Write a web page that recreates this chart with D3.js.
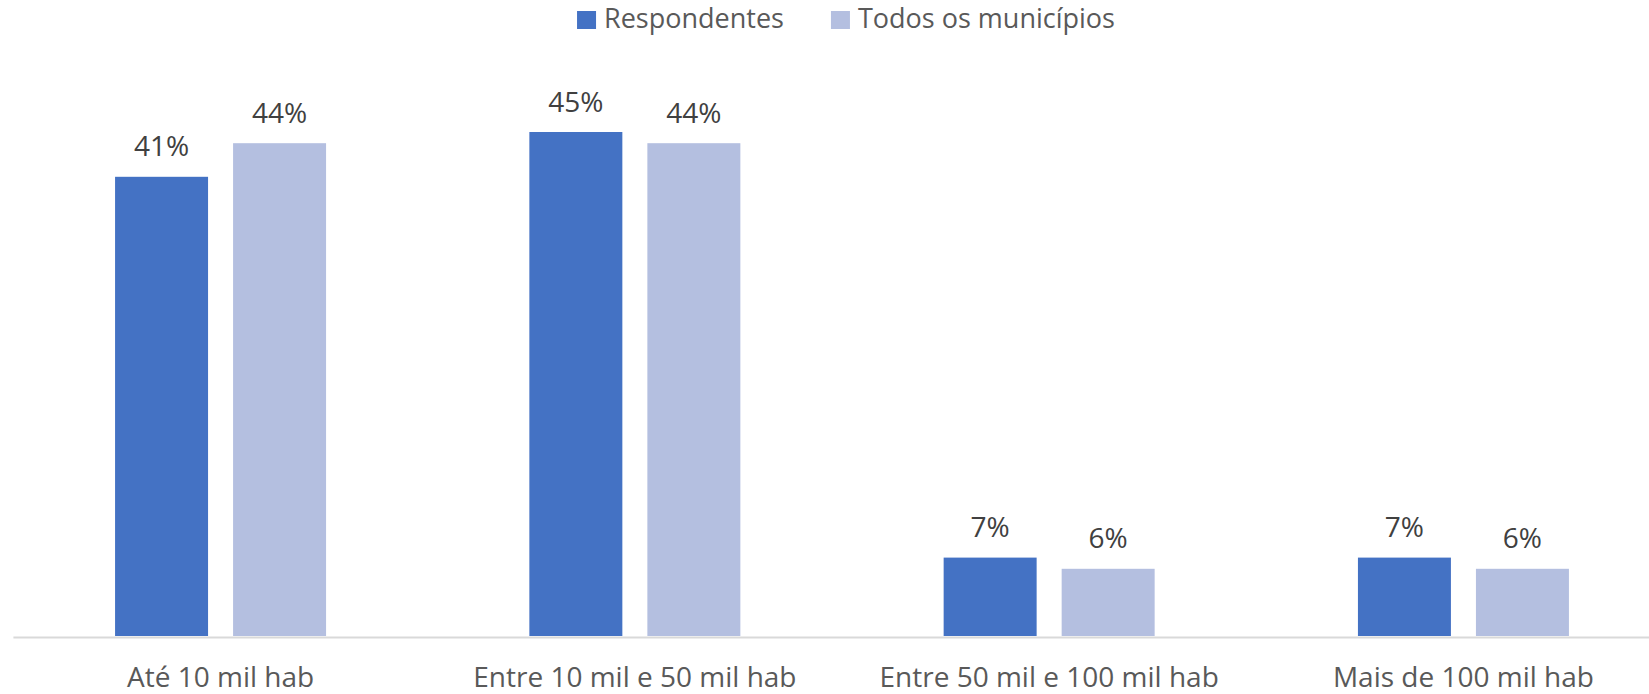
<!DOCTYPE html>
<html>
<head>
<meta charset="utf-8">
<script src="https://cdn.jsdelivr.net/npm/d3@7"></script>
<style>
  html, body { margin: 0; padding: 0; background: #fff; }
  svg { display: block; font-family: "Open Sans", "Segoe UI", sans-serif; }
</style>
</head>
<body>
<div id="chart"></div>
<script>
'use strict';

// data
const categories = ["Até 10 mil hab", "Entre 10 mil e 50 mil hab", "Entre 50 mil e 100 mil hab", "Mais de 100 mil hab"];
const seriesNames = ["Respondentes", "Todos os municípios"];
const respondentes = [0.41, 0.45, 0.07, 0.07];
const todosMunicipios = [0.44, 0.44, 0.06, 0.06];

const width = 1649;
const height = 694;
const baseline = 636;

const color = d3.scaleOrdinal()
  .domain(seriesNames)
  .range(["#4472C4", "#B4BFE0"]);

const rows = categories.map((c, i) => ({
  category: c,
  values: [
    { series: seriesNames[0], value: respondentes[i] },
    { series: seriesNames[1], value: todosMunicipios[i] }
  ]
}));

const svg = d3.select("#chart")
  .append("svg")
  .attr("width", width)
  .attr("height", height);

// scales
const x0 = d3.scaleBand()
  .domain(categories)
  .range([13.4, 1670.6])
  .paddingInner(0.4907)
  .paddingOuter(0.2454);

const x1 = d3.scaleBand()
  .domain(seriesNames)
  .range([0, x0.bandwidth()])
  .paddingInner(0.212)
  .paddingOuter(0);

const y = d3.scaleLinear()
  .domain([0, 0.5])
  .range([baseline, baseline - 560]);

// bars
const groups = svg.append("g")
  .selectAll("g")
  .data(rows)
  .join("g")
  .attr("transform", d => `translate(${x0(d.category)},0)`);

groups.selectAll("rect")
  .data(d => d.values)
  .join("rect")
  .attr("x", d => x1(d.series))
  .attr("y", d => y(d.value))
  .attr("width", x1.bandwidth())
  .attr("height", d => y(0) - y(d.value))
  .attr("fill", d => color(d.series));

// data labels
groups.selectAll("text")
  .data(d => d.values)
  .join("text")
  .attr("x", d => x1(d.series) + x1.bandwidth() / 2)
  .attr("y", d => y(d.value) - 20.5)
  .attr("text-anchor", "middle")
  .attr("font-size", 28)
  .attr("fill", "#404040")
  .text(d => d3.format(".0%")(d.value));

// x axis
const xAxis = d3.axisBottom(x0).tickSize(0).tickPadding(0);
const gx = svg.append("g")
  .attr("transform", `translate(0,${baseline})`)
  .call(xAxis);
gx.select(".domain")
  .attr("stroke", "#D9D9D9")
  .attr("stroke-width", 2)
  .attr("d", `M13.4,1.5H${width}`);
gx.selectAll(".tick text")
  .attr("font-size", 28)
  .attr("font-family", "\"Open Sans\", sans-serif")
  .attr("fill", "#595959")
  .attr("dy", null)
  .attr("y", 51);

// legend
const legend = svg.append("g");
let lx = 0;
seriesNames.forEach((name, i) => {
  const item = legend.append("g").attr("transform", `translate(${lx},0)`);
  item.append("rect")
    .attr("x", 0)
    .attr("y", 11)
    .attr("width", 19)
    .attr("height", 18)
    .attr("fill", color(name));
  const t = item.append("text")
    .attr("x", 27)
    .attr("y", 28)
    .attr("font-size", 27)
    .attr("fill", "#595959")
    .text(name);
  lx += 27 + t.node().getComputedTextLength() + 47;
});
const legendWidth = lx - 47;
legend.attr("transform", `translate(${846 - legendWidth / 2},0)`);
</script>
</body>
</html>
